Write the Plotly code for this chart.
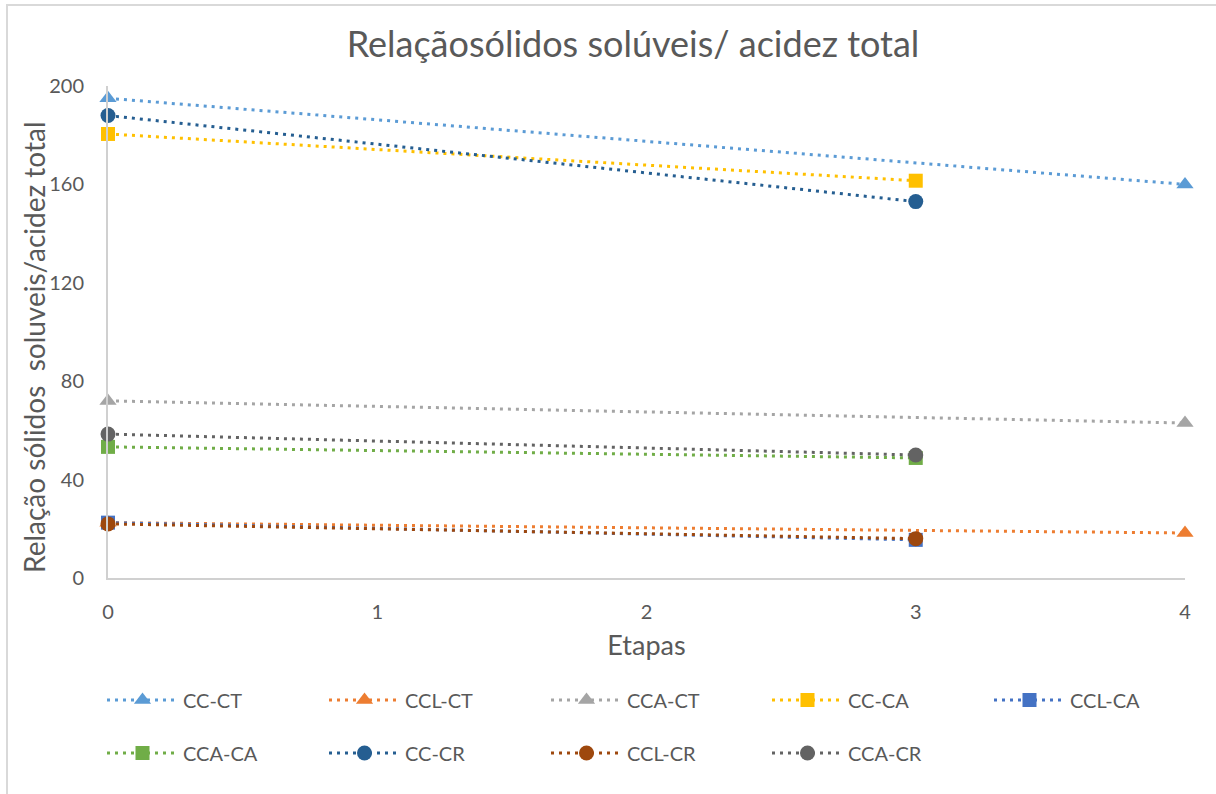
import plotly.graph_objects as go

series_names = ["CC-CT", "CCL-CT", "CCA-CT", "CC-CA", "CCL-CA",
                "CCA-CA", "CC-CR", "CCL-CR", "CCA-CR"]
x_ct = [0, 4]
x_3 = [0, 3]
cc_ct = [195, 160]
ccl_ct = [22.5, 18.3]
cca_ct = [72, 63]
cc_ca = [180.5, 161.5]
ccl_ca = [22.5, 15.5]
cca_ca = [53.3, 48.8]
cc_cr = [188, 153]
ccl_cr = [22, 16]
cca_cr = [58.5, 50]
y_ticks = [0, 40, 80, 120, 160, 200]
x_ticks = [0, 1, 2, 3, 4]

xs = [x_ct, x_ct, x_ct, x_3, x_3, x_3, x_3, x_3, x_3]
ys = [cc_ct, ccl_ct, cca_ct, cc_ca, ccl_ca, cca_ca, cc_cr, ccl_cr, cca_cr]
colors = ["#5B9BD5", "#ED7D31", "#A5A5A5", "#FFC000", "#4472C4",
          "#70AD47", "#255E91", "#9E480E", "#636363"]
symbols = ["triangle-up"] * 3 + ["square"] * 3 + ["circle"] * 3
sizes = [15, 15, 15, 14, 14, 14, 15, 15, 15]

W, H = 1216, 794
L, R, T, B = 108, 31, 86, 216
pw, ph = W - L - R, H - T - B

def px_x(p):
    return (p - L) / pw

def px_y(p):
    return (H - B - p) / ph

fig = go.Figure()
col_x = [107, 329, 551, 772, 994]
row_y = [700, 753]
layout_legends = {}
for i, name in enumerate(series_names):
    lg = "legend" if i == 0 else f"legend{i+1}"
    fig.add_trace(go.Scatter(
        x=xs[i], y=ys[i], name=name, mode="lines+markers",
        line=dict(color=colors[i], width=3, dash="3px,5px"),
        marker=dict(symbol=symbols[i], size=sizes[i], color=colors[i]),
        legend=lg, cliponaxis=False, showlegend=True,
    ))
    r, c = divmod(i, 5)
    layout_legends[lg] = dict(
        x=px_x(col_x[c] - 5), y=px_y(row_y[r]), xanchor="left", yanchor="middle",
        xref="paper", yref="paper", bgcolor="rgba(0,0,0,0)",
        font=dict(family="Lato", size=20, color="#595959"),
        itemwidth=71,
    )

fig.update_layout(
    width=W, height=H,
    margin=dict(l=L, r=R, t=T, b=B),
    showlegend=True,
    paper_bgcolor="white", plot_bgcolor="white",
    font=dict(family="Lato", color="#595959"),
    title=dict(text="Relaçãosólidos solúveis/ acidez total",
               x=px_x(633), xanchor="center", xref="paper",
               y=1 - 44 / H, yanchor="middle",
               font=dict(family="Lato", size=36, color="#595959")),
    xaxis=dict(range=[0, 4], tickvals=x_ticks, showgrid=False, zeroline=False,
               showline=True, linecolor="#D0D0D0", linewidth=2,
               ticks="", ticklabelstandoff=15,
               tickfont=dict(family="Lato", size=20, color="#595959"),
               title=dict(text="Etapas", standoff=14,
                          font=dict(family="Lato", size=27, color="#595959"))),
    yaxis=dict(range=[0, 200], tickvals=y_ticks, showgrid=False, zeroline=False,
               showline=True, linecolor="#D0D0D0", linewidth=2,
               ticks="", ticklabelstandoff=18,
               tickfont=dict(family="Lato", size=20, color="#595959")),
    annotations=[dict(text="Relação sólidos  soluveis/acidez total",
                      xref="paper", yref="paper", x=px_x(34), y=px_y(347),
                      xanchor="center", yanchor="middle", textangle=-90,
                      showarrow=False,
                      font=dict(family="Lato", size=28, color="#595959"))],
    shapes=[dict(type="rect", xref="paper", yref="paper",
                 x0=px_x(7), x1=px_x(W + 20), y0=px_y(H + 20), y1=px_y(5),
                 line=dict(color="#D9D9D9", width=2), layer="below")],
    **layout_legends,
)

fig.write_html("out.html")
